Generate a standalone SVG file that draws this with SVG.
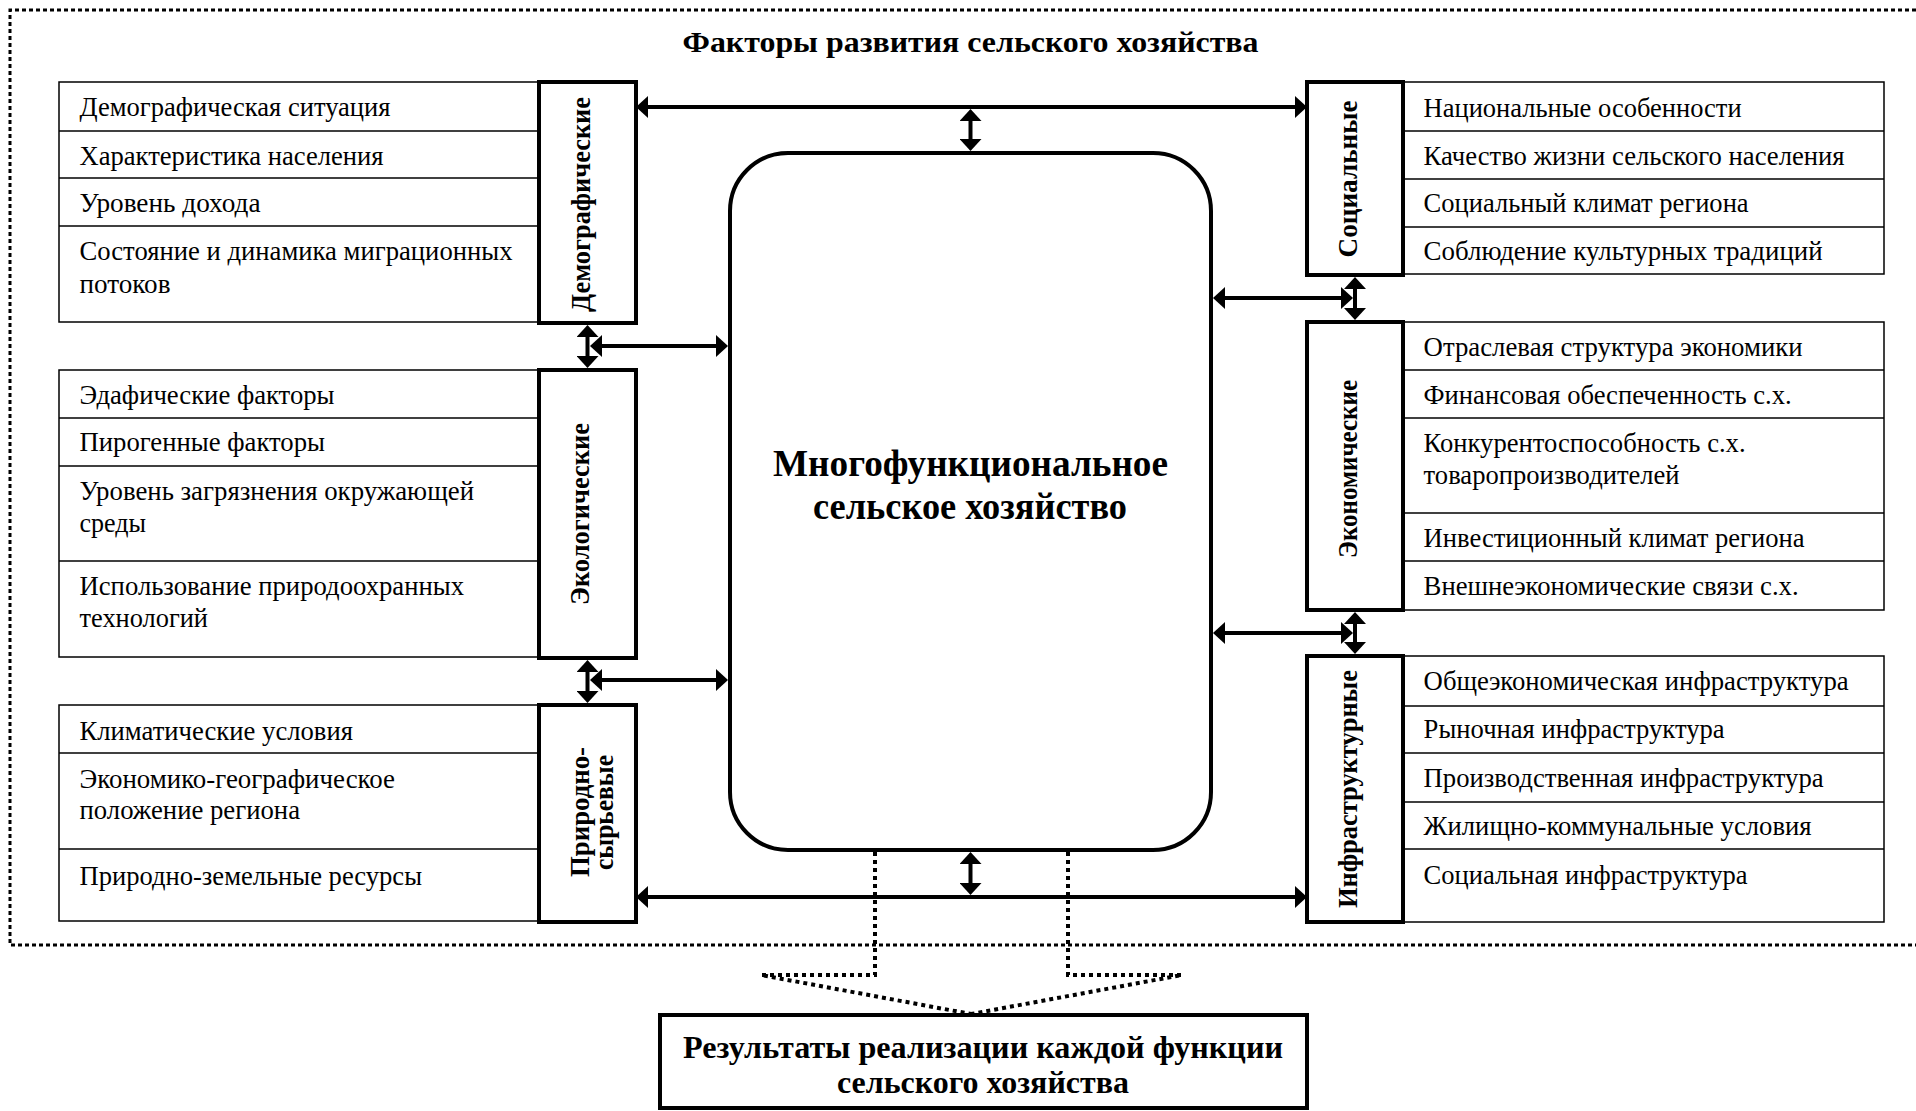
<svg xmlns="http://www.w3.org/2000/svg" width="1916" height="1111" viewBox="0 0 1916 1111">
<style>
text{font-family:"Liberation Serif","Times New Roman",serif;fill:#000}
.it{font-size:26.5px}
.lb{font-size:28px;font-weight:bold;text-anchor:middle}
.hd{font-size:30px;font-weight:bold;text-anchor:middle}
.cn{font-size:38px;font-weight:bold;text-anchor:middle}
.rs{font-size:31px;font-weight:bold;text-anchor:middle}
.tb{fill:#fff;stroke:#000;stroke-width:1.5}
.rl{stroke:#000;stroke-width:1.5}
.cat{fill:#fff;stroke:#000;stroke-width:4}
.conn{stroke:#000;stroke-width:4;fill:none;marker-start:url(#ah);marker-end:url(#ah)}
.dot{stroke:#000;stroke-width:4;fill:none;stroke-dasharray:4 4}
.frame{stroke:#000;stroke-width:3;fill:none;stroke-dasharray:4 3}
</style>
<defs>
<marker id="ah" viewBox="0 0 12 22" refX="6" refY="11" markerWidth="12" markerHeight="22" markerUnits="userSpaceOnUse" orient="auto-start-reverse"><path d="M0,0 L12,11 L0,22 z" fill="#000"/></marker>
</defs>
<rect width="1916" height="1111" fill="#fff"/>

<g id="frame">
<path class="frame" d="M1916,10 H10 V945 H1916"/>
<text class="hd" x="970.5" y="52" textLength="576" lengthAdjust="spacingAndGlyphs">Факторы развития сельского хозяйства</text>
</g>

<g id="center">
<rect class="cat" x="730" y="153" width="481" height="697" rx="58" ry="58"/>
<text class="cn" x="970.5" y="476" textLength="395" lengthAdjust="spacingAndGlyphs">Многофункциональное</text>
<text class="cn" x="970" y="519" textLength="314" lengthAdjust="spacingAndGlyphs">сельское хозяйство</text>
</g>

<g id="demographic">
<rect class="tb" x="59" y="82" width="480" height="240"/>
<line class="rl" x1="59" y1="131" x2="539" y2="131"/>
<line class="rl" x1="59" y1="178" x2="539" y2="178"/>
<line class="rl" x1="59" y1="226" x2="539" y2="226"/>
<text class="it" x="79.5" y="116" textLength="311" lengthAdjust="spacingAndGlyphs">Демографическая ситуация</text>
<text class="it" x="79.5" y="165" textLength="304" lengthAdjust="spacingAndGlyphs">Характеристика населения</text>
<text class="it" x="79.5" y="211.5" textLength="181" lengthAdjust="spacingAndGlyphs">Уровень дохода</text>
<text class="it" x="79.5" y="260" textLength="433" lengthAdjust="spacingAndGlyphs">Состояние и динамика миграционных</text>
<text class="it" x="79.5" y="293" textLength="91" lengthAdjust="spacingAndGlyphs">потоков</text>
<rect class="cat" x="539" y="82" width="97" height="241"/>
<text class="lb" transform="translate(590,204.5) rotate(-90)" textLength="215" lengthAdjust="spacingAndGlyphs">Демографические</text>
</g>

<g id="ecological">
<rect class="tb" x="59" y="370" width="480" height="287"/>
<line class="rl" x1="59" y1="418" x2="539" y2="418"/>
<line class="rl" x1="59" y1="466" x2="539" y2="466"/>
<line class="rl" x1="59" y1="561" x2="539" y2="561"/>
<text class="it" x="79.5" y="404" textLength="255" lengthAdjust="spacingAndGlyphs">Эдафические факторы</text>
<text class="it" x="79.5" y="451" textLength="245.5" lengthAdjust="spacingAndGlyphs">Пирогенные факторы</text>
<text class="it" x="79.5" y="500" textLength="394.5" lengthAdjust="spacingAndGlyphs">Уровень загрязнения окружающей</text>
<text class="it" x="79.5" y="532" textLength="66.5" lengthAdjust="spacingAndGlyphs">среды</text>
<text class="it" x="79.5" y="595" textLength="384.5" lengthAdjust="spacingAndGlyphs">Использование природоохранных</text>
<text class="it" x="79.5" y="627" textLength="128.5" lengthAdjust="spacingAndGlyphs">технологий</text>
<rect class="cat" x="539" y="370" width="97" height="288"/>
<text class="lb" transform="translate(589,514) rotate(-90)" textLength="182" lengthAdjust="spacingAndGlyphs">Экологические</text>
</g>

<g id="natural">
<rect class="tb" x="59" y="705" width="480" height="216"/>
<line class="rl" x1="59" y1="753" x2="539" y2="753"/>
<line class="rl" x1="59" y1="849" x2="539" y2="849"/>
<text class="it" x="79.5" y="740" textLength="273.5" lengthAdjust="spacingAndGlyphs">Климатические условия</text>
<text class="it" x="79.5" y="788" textLength="315.5" lengthAdjust="spacingAndGlyphs">Экономико-географическое</text>
<text class="it" x="79.5" y="819" textLength="220.5" lengthAdjust="spacingAndGlyphs">положение региона</text>
<text class="it" x="79.5" y="885" textLength="342.5" lengthAdjust="spacingAndGlyphs">Природно-земельные ресурсы</text>
<rect class="cat" x="539" y="705" width="97" height="217"/>
<text class="lb" transform="translate(589,812) rotate(-90)" textLength="130" lengthAdjust="spacingAndGlyphs">Природно-</text>
<text class="lb" transform="translate(613,812.5) rotate(-90)" textLength="115" lengthAdjust="spacingAndGlyphs">сырьевые</text>
</g>

<g id="social">
<rect class="tb" x="1403" y="82" width="481" height="192"/>
<line class="rl" x1="1403" y1="131" x2="1884" y2="131"/>
<line class="rl" x1="1403" y1="179" x2="1884" y2="179"/>
<line class="rl" x1="1403" y1="227" x2="1884" y2="227"/>
<text class="it" x="1423.6" y="117" textLength="318" lengthAdjust="spacingAndGlyphs">Национальные особенности</text>
<text class="it" x="1423.6" y="165" textLength="421" lengthAdjust="spacingAndGlyphs">Качество жизни сельского населения</text>
<text class="it" x="1423.6" y="212" textLength="325" lengthAdjust="spacingAndGlyphs">Социальный климат региона</text>
<text class="it" x="1423.6" y="260" textLength="399" lengthAdjust="spacingAndGlyphs">Соблюдение культурных традиций</text>
<rect class="cat" x="1307" y="82" width="96" height="193"/>
<text class="lb" transform="translate(1357,179) rotate(-90)" textLength="157" lengthAdjust="spacingAndGlyphs">Социальные</text>
</g>

<g id="economic">
<rect class="tb" x="1403" y="322" width="481" height="288"/>
<line class="rl" x1="1403" y1="370" x2="1884" y2="370"/>
<line class="rl" x1="1403" y1="418" x2="1884" y2="418"/>
<line class="rl" x1="1403" y1="513" x2="1884" y2="513"/>
<line class="rl" x1="1403" y1="561" x2="1884" y2="561"/>
<text class="it" x="1423.6" y="356" textLength="379" lengthAdjust="spacingAndGlyphs">Отраслевая структура экономики</text>
<text class="it" x="1423.6" y="404" textLength="368" lengthAdjust="spacingAndGlyphs">Финансовая обеспеченность с.х.</text>
<text class="it" x="1423.6" y="452" textLength="322" lengthAdjust="spacingAndGlyphs">Конкурентоспособность с.х.</text>
<text class="it" x="1423.6" y="484" textLength="256" lengthAdjust="spacingAndGlyphs">товаропроизводителей</text>
<text class="it" x="1423.6" y="547" textLength="381" lengthAdjust="spacingAndGlyphs">Инвестиционный климат региона</text>
<text class="it" x="1423.6" y="595" textLength="375" lengthAdjust="spacingAndGlyphs">Внешнеэкономические связи с.х.</text>
<rect class="cat" x="1307" y="322" width="96" height="288"/>
<text class="lb" transform="translate(1357,469) rotate(-90)" textLength="178" lengthAdjust="spacingAndGlyphs">Экономические</text>
</g>

<g id="infrastructure">
<rect class="tb" x="1403" y="656" width="481" height="266"/>
<line class="rl" x1="1403" y1="706" x2="1884" y2="706"/>
<line class="rl" x1="1403" y1="753" x2="1884" y2="753"/>
<line class="rl" x1="1403" y1="802" x2="1884" y2="802"/>
<line class="rl" x1="1403" y1="849" x2="1884" y2="849"/>
<text class="it" x="1423.6" y="690" textLength="425" lengthAdjust="spacingAndGlyphs">Общеэкономическая инфраструктура</text>
<text class="it" x="1423.6" y="738" textLength="301" lengthAdjust="spacingAndGlyphs">Рыночная инфраструктура</text>
<text class="it" x="1423.6" y="787" textLength="400" lengthAdjust="spacingAndGlyphs">Производственная инфраструктура</text>
<text class="it" x="1423.6" y="835" textLength="388" lengthAdjust="spacingAndGlyphs">Жилищно-коммунальные условия</text>
<text class="it" x="1423.6" y="884" textLength="324" lengthAdjust="spacingAndGlyphs">Социальная инфраструктура</text>
<rect class="cat" x="1307" y="656" width="96" height="266"/>
<text class="lb" transform="translate(1357,789) rotate(-90)" textLength="238" lengthAdjust="spacingAndGlyphs">Инфраструктурные</text>
</g>

<g id="results">
<rect class="cat" x="660" y="1015" width="647" height="93"/>
<text class="rs" x="983" y="1058" textLength="600" lengthAdjust="spacingAndGlyphs">Результаты реализации каждой функции</text>
<text class="rs" x="983" y="1093" textLength="292" lengthAdjust="spacingAndGlyphs">сельского хозяйства</text>
</g>

<g id="connectors">
<line class="conn" x1="642" y1="107" x2="1301" y2="107"/>
<line class="conn" x1="970.5" y1="115" x2="970.5" y2="145"/>
<line class="conn" x1="642" y1="897" x2="1301" y2="897"/>
<line class="conn" x1="970.5" y1="858" x2="970.5" y2="889"/>
<line class="conn" x1="587.5" y1="331" x2="587.5" y2="362"/>
<line class="conn" x1="596" y1="346" x2="722" y2="346"/>
<line class="conn" x1="587.5" y1="666" x2="587.5" y2="697"/>
<line class="conn" x1="596" y1="680" x2="722" y2="680"/>
<line class="conn" x1="1355" y1="283" x2="1355" y2="314"/>
<line class="conn" x1="1219" y1="298" x2="1347" y2="298"/>
<line class="conn" x1="1355" y1="618" x2="1355" y2="648"/>
<line class="conn" x1="1219" y1="633" x2="1347" y2="633"/>
<polyline class="dot" points="875,852 875,975 761,975 971,1014"/>
<polyline class="dot" points="1068,852 1068,975 1182,975 971,1014"/>
</g>
</svg>
